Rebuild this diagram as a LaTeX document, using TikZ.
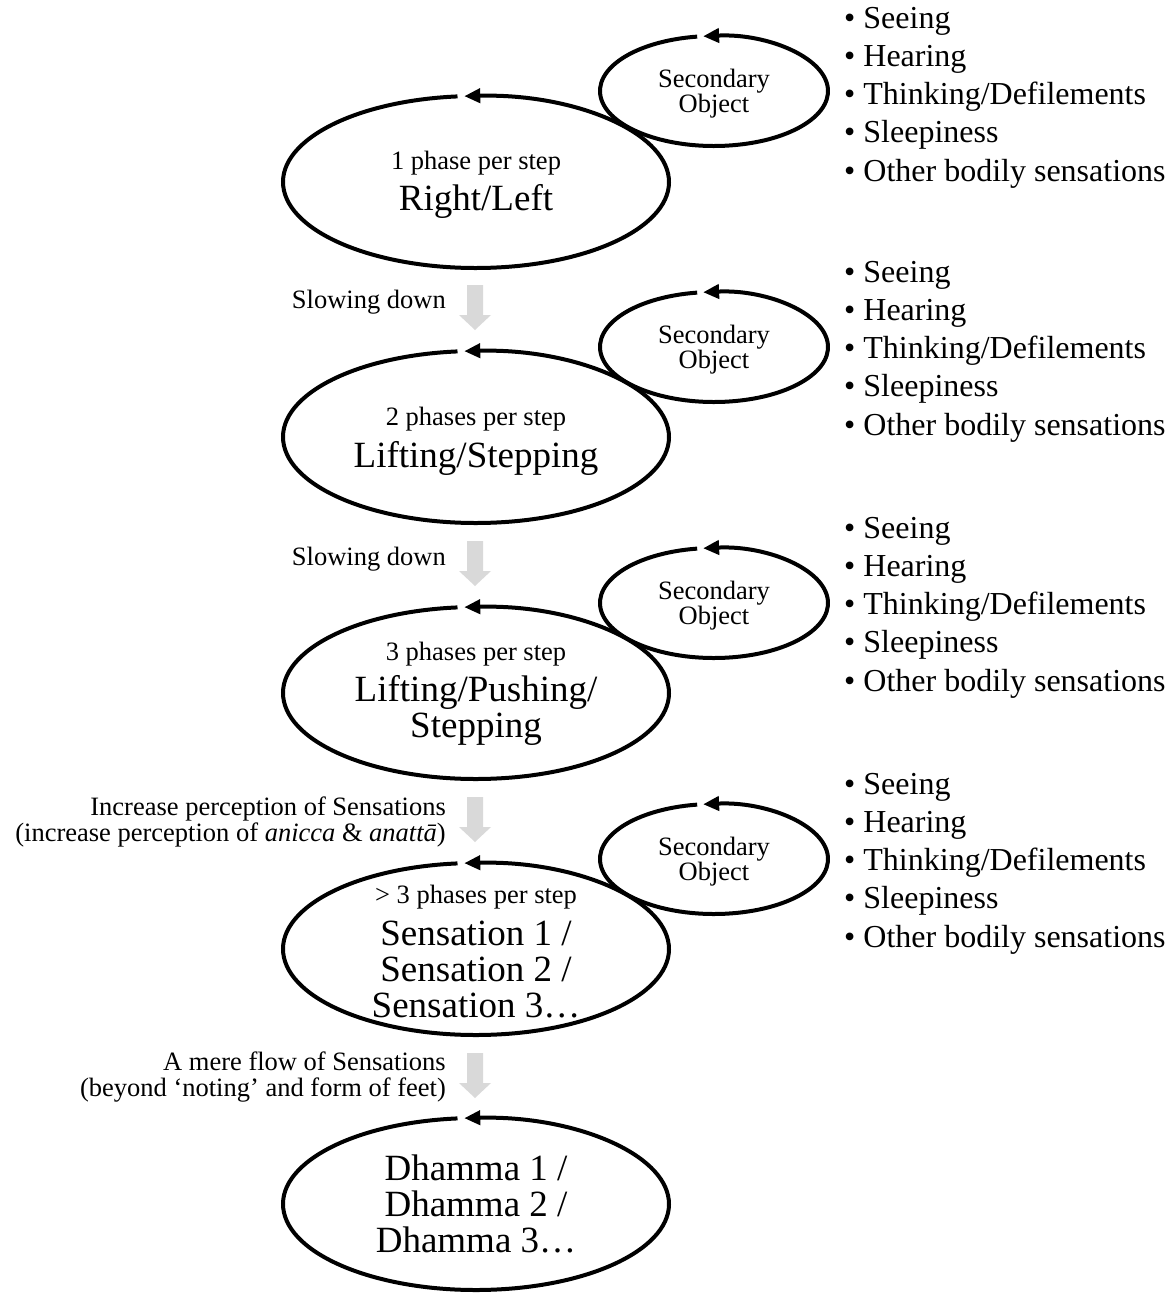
\documentclass[tikz,border=0pt]{standalone}
\usepackage{fontspec}
\setmainfont{Liberation Serif}
\usetikzlibrary{arrows.meta,calc}
\definecolor{arrowgray}{RGB}{217,217,217}
\begin{document}
\begin{tikzpicture}[x=1pt,y=1pt,
  loopline/.style={line width=4pt, -{Triangle[length=16pt,width=14pt]}},
  garrow/.style={fill=arrowgray, draw=none},
  smalltxt/.style={font=\fontsize{26.5}{26}\selectfont, inner sep=0pt},
  bigtxt/.style={font=\fontsize{37}{36}\selectfont, inner sep=0pt, align=center},
  sectxt/.style={font=\fontsize{26.5}{25}\selectfont, inner sep=0pt, align=center},
  sidetxt/.style={font=\fontsize{26.5}{26}\selectfont, inner sep=0pt, align=right, anchor=east},
  bullets/.style={font=\fontsize{32}{38.3}\selectfont, inner sep=0pt, align=left, anchor=west},
]
\useasboundingbox (0,0) rectangle (1175,-1294);

% main loops
\foreach \n/\cy in {1/182, 2/437, 3/693, 4/949, 5/1204} {
  \coordinate (E\n) at (476,-\cy);
  \draw[loopline] ([shift={(95.5:193pt and 86pt)}]E\n) arc[start angle=95.5, end angle=453.5, x radius=193pt, y radius=86pt];
}

% secondary loops
\foreach \n/\cy in {1/91, 2/347, 3/603, 4/859} {
  \coordinate (S\n) at (714,-\cy);
  \draw[loopline] ([shift={(98.5:114pt and 55pt)}]S\n) arc[start angle=98.5, end angle=455.5, x radius=114pt, y radius=55pt];
  \node[sectxt] (st\n) at ($(S\n)+(0,-3)$) {Secondary\\Object};
}

% gray block arrows
\foreach \n/\ty in {1/285, 2/541, 3/797, 4/1053} {
  \coordinate (G\n) at (475,-\ty);
  \fill[garrow] (G\n) ++(-8,0) -- ++(16,0) -- ++(0,-30) -- ++(8,0) -- ++(-16,-15) -- ++(-16,15) -- ++(8,0) -- cycle;
}

% ellipse texts
\node[smalltxt] (p1) at (476,-163) {1 phase per step};
\node[bigtxt] (m1) at (476,-201) {Right/Left};
\node[smalltxt] (p2) at (476,-419) {2 phases per step};
\node[bigtxt] (m2) at (476,-458) {Lifting/Stepping};
\node[smalltxt] (p3) at (476,-654) {3 phases per step};
\node[bigtxt] (m3) at (476,-710) {Lifting/Pushing/\\Stepping};
\node[smalltxt] (p4) at (476,-897) {> 3 phases per step};
\node[bigtxt] (m4) at (476,-969) {Sensation 1 /\\Sensation 2 /\\Sensation 3…};
\node[bigtxt] (m5) at (476,-1203.5) {Dhamma 1 /\\Dhamma 2 /\\Dhamma 3…};

% side labels
\node[sidetxt] (l1) at (446,-302) {Slowing down};
\node[sidetxt] (l2) at (446,-559) {Slowing down};
\node[sidetxt] (l3) at (446,-822) {Increase perception of Sensations\\(increase perception of \textit{anicca} \& \textit{anattā})};
\node[sidetxt] (l4) at (446,-1077) {A mere flow of Sensations\\(beyond ‘noting’ and form of feet)};

% bullet lists
\foreach \n/\cy in {1/97.5, 2/351.5, 3/607.5, 4/863.5} {
  \node[bullets] (b\n) at (844,-\cy) {• Seeing\\• Hearing\\• Thinking/Defilements\\• Sleepiness\\• Other bodily sensations};
}
\end{tikzpicture}
\end{document}
